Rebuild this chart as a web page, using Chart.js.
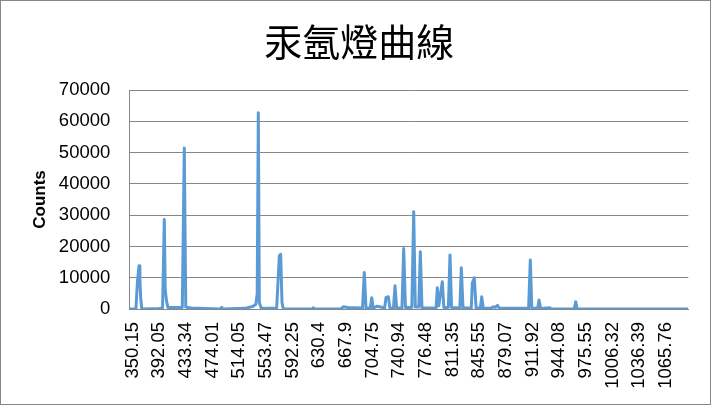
<!DOCTYPE html>
<html>
<head>
<meta charset="utf-8">
<script src="https://cdn.jsdelivr.net/npm/chart.js@4/dist/chart.umd.min.js"></script>
<style>
  html, body { margin: 0; padding: 0; background: #fff; }
  #wrap { width: 711px; height: 405px; }
</style>
</head>
<body>
<div id="wrap"><canvas id="spectrum"></canvas></div>
<script>
// wavelength labels shown under the x axis (one per tick step)
var waveTicks = ['350.15', '392.05', '433.34', '474.01', '514.05', '553.47', '592.25',
  '630.4', '667.9', '704.75', '740.94', '776.48', '811.35', '845.55', '879.07',
  '911.92', '944.08', '975.55', '1006.32', '1036.39', '1065.76'];

var countTicks = [0, 10000, 20000, 30000, 40000, 50000, 60000, 70000];

// spectrum: position in tick steps, counts
var specPos = [-0.128, 0.12, 0.18, 0.236, 0.27, 0.30, 0.34,
  1.0, 1.12, 1.185, 1.22, 1.27, 1.32, 1.6, 1.86, 1.935, 1.99, 2.2,
  3.30, 3.338, 3.38, 4.2, 4.5, 4.62, 4.67, 4.711, 4.75, 4.82,
  5.0, 5.4, 5.47, 5.50, 5.55, 5.60, 5.65,
  6.74, 6.774, 6.81, 7.8, 7.9, 8.08, 8.62, 8.687, 8.75,
  8.91, 8.965, 9.02, 9.175, 9.45, 9.501, 9.587, 9.65,
  9.78, 9.839, 9.90, 10.10, 10.165, 10.23, 10.47, 10.540, 10.60,
  10.73, 10.788, 10.85, 11.38, 11.425, 11.48, 11.613, 11.67,
  11.84, 11.902, 11.96, 12.27, 12.326, 12.39, 12.70, 12.738, 12.813, 12.88,
  13.04, 13.091, 13.15, 13.45, 13.526, 13.6, 13.683, 13.75,
  14.85, 14.914, 14.97, 15.19, 15.240, 15.30, 15.653, 15.7,
  16.56, 16.617, 16.68, 20.84];
var specCounts = [0, 0, 9000, 13800, 9000, 3500, 0,
  200, 400, 28600, 6000, 2500, 500, 500, 500, 51500, 600, 300,
  0, 500, 0, 200, 800, 1500, 5000, 62700, 2000, 300,
  200, 300, 12000, 17000, 17500, 2000, 0,
  0, 400, 0, 0, 700, 500, 300, 11700, 300,
  300, 3600, 300, 900, 300, 3700, 3900, 200,
  200, 7400, 300, 300, 19300, 500, 500, 31100, 600,
  600, 18300, 300, 300, 6800, 1000, 8700, 500,
  500, 17300, 500, 300, 13200, 300, 300, 8200, 10000, 300,
  300, 3900, 200, 300, 700, 500, 1200, 200,
  200, 15700, 300, 200, 2900, 200, 400, 0,
  0, 2300, 0, 0];

var points = specPos.map(function (x, i) { return { x: x, y: specCounts[i] }; });

var frame = {
  id: 'frame',
  beforeDraw: function (chart) {
    var c = chart.ctx;
    c.save();
    c.fillStyle = '#fff';
    c.fillRect(0, 0, chart.width, chart.height);
    c.strokeStyle = '#868686';
    c.lineWidth = 1;
    c.strokeRect(0.5, 0.5, chart.width - 1, chart.height - 1);
    c.restore();
  }
};

var tickFont = { family: '"Liberation Sans", Arial, sans-serif', size: 18.5 };

new Chart(document.getElementById('spectrum'), {
  type: 'line',
  data: {
    datasets: [{
      data: points,
      borderColor: '#5b9bd5',
      borderWidth: 3,
      borderJoinStyle: 'round',
      pointRadius: 0,
      tension: 0
    }]
  },
  options: {
    responsive: true,
    maintainAspectRatio: false,
    animation: false,
    layout: { padding: { top: 0, left: 30, right: 22.7, bottom: 0 } },
    plugins: {
      legend: { display: false },
      tooltip: { enabled: false },
      title: {
        display: true,
        text: '汞氬燈曲線',
        color: '#000',
        font: { family: '"Noto Sans CJK TC", sans-serif', size: 38, weight: 'normal' },
        padding: { top: 19.2, bottom: 25.2 }
      }
    },
    scales: {
      x: {
        type: 'linear',
        min: -0.128,
        max: 20.84,
        afterBuildTicks: function (s) {
          s.ticks = waveTicks.map(function (_, i) { return { value: i }; });
        },
        afterFit: function (s) { s.height = 96; },
        grid: { display: false, drawTicks: false },
        border: { display: true, color: '#868686' },
        ticks: {
          autoSkip: false,
          minRotation: 90,
          maxRotation: 90,
          padding: 13,
          color: '#000',
          font: tickFont,
          callback: function (v) { return waveTicks[Math.round(v)]; }
        }
      },
      y: {
        min: 0,
        max: 70000,
        afterBuildTicks: function (s) {
          s.ticks = countTicks.map(function (v) { return { value: v }; });
        },
        afterFit: function (s) { s.width = 99.3; },
        grid: { color: '#868686', lineWidth: 1, drawTicks: false },
        border: { display: true, color: '#868686' },
        ticks: {
          padding: 19,
          color: '#000',
          font: tickFont,
          callback: function (v) { return String(v); }
        },
        title: {
          display: true,
          text: 'Counts',
          color: '#000',
          padding: { top: 0, bottom: 0 },
          font: { family: '"Liberation Sans", Arial, sans-serif', size: 17, weight: 'bold' }
        }
      }
    }
  },
  plugins: [frame]
});
</script>
</body>
</html>
